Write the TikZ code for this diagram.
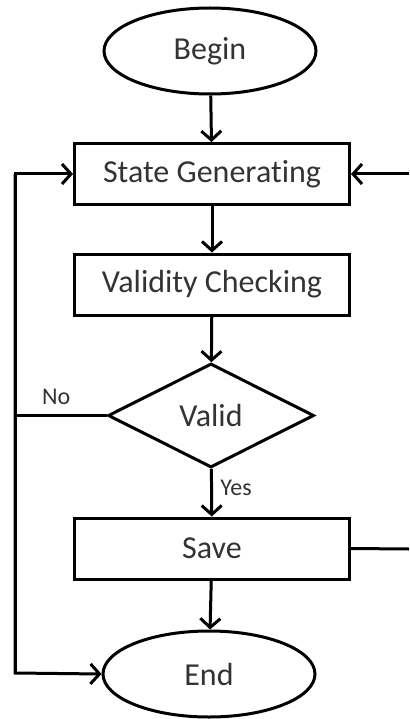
\documentclass[tikz,border=0pt]{standalone}
\usepackage{fontspec}
\setmainfont[Ligatures=NoCommon]{Carlito}
\usetikzlibrary{shapes.geometric,arrows.meta}
\definecolor{txt}{HTML}{333333}
\begin{document}
\begin{tikzpicture}[x=1pt,y=-1pt,
  every node/.style={font=\fontsize{32}{34}\selectfont, text=txt},
  line/.style={line width=3pt, draw=black},
  flow/.style={line, -{Straight Barb[length=9pt,width=20pt,line width=3pt]}},
  term/.style={ellipse, line, minimum width=212pt, minimum height=86pt, inner sep=0pt},
  proc/.style={rectangle, line, minimum width=275pt, minimum height=61pt, inner sep=0pt},
  decide/.style={diamond, line, minimum width=206pt, minimum height=104pt, inner sep=0pt, aspect=2},
  lbl/.style={font=\fontsize{24}{26}\selectfont}]
\useasboundingbox (0,0) rectangle (409,719);

% nodes
\node[term] (begin) at (210,51) {Begin};
\node[proc] (gen) at (212,174) {State Generating};
\node[proc] (check) at (212,284.5) {Validity Checking};
\node[decide] (valid) at (211,415.5) {Valid};
\node[proc] (save) at (212,548.5) {Save};
\node[term] (end) at (209,674) {End};

% edge coordinates for the loops
\coordinate (lt) at (15,174);
\coordinate (lb) at (15,673);
\coordinate (rt) at (409,174);
\coordinate (rb) at (409,549);

% main flow
\draw[flow] (begin) -- (gen);
\draw[flow] (gen) -- (check);
\draw[flow] (check) -- (valid);
\draw[flow] (valid) -- node[lbl, right, pos=0.4, xshift=4pt] (yes) {Yes} (save);
\draw[flow] (save) -- (end);

% loops
\draw[line] (valid.west) -- node[lbl, above, pos=0.55, yshift=6pt] (no) {No} (15,415.5);
\draw[flow] (lb) -- (lt) -- (gen.west);
\draw[flow] (lt) -- (lb) -- (end.west);
\draw[flow] (rt) -- (gen.east);
\draw[line] (save.east) -- (rb);
\end{tikzpicture}
\end{document}
